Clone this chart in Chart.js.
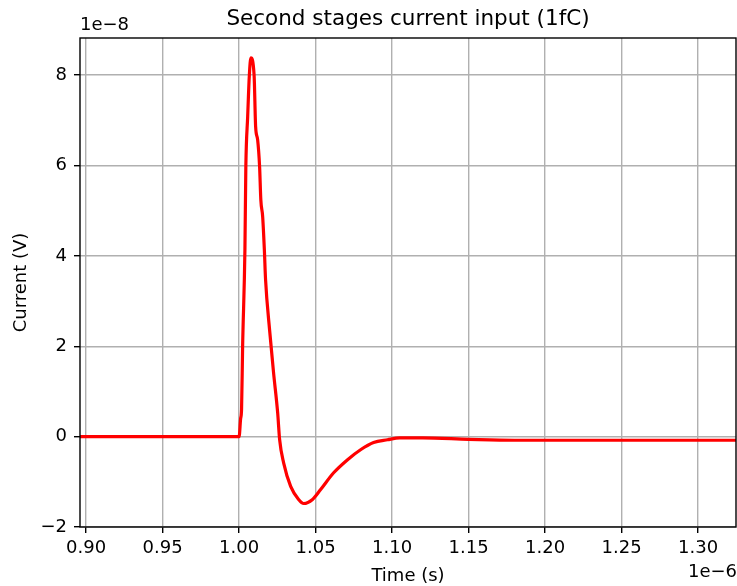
<!DOCTYPE html>
<html>
<head>
<meta charset="utf-8">
<script src="https://cdn.jsdelivr.net/npm/chart.js@4.4.1/dist/chart.umd.min.js"></script>
<style>
  body { margin: 0; background: #fff; }
  canvas { display: block; }
</style>
</head>
<body>
<canvas id="pulseChart" width="737" height="586"></canvas>
<script>
// temps en unités de 1e-6 s, courant en unités de 1e-8
const timeValues = [0.890, 1.000, 1.0010, 1.0016, 1.0023, 1.0038, 1.0044, 1.0056, 1.0067, 1.0077,
  1.0098, 1.0108, 1.0121, 1.0134, 1.0142, 1.0154, 1.0165, 1.0173, 1.0199, 1.0225,
  1.0252, 1.0265, 1.0291, 1.0337, 1.0389, 1.0422, 1.0480, 1.0533, 1.0618, 1.0709,
  1.0794, 1.0879, 1.0970, 1.1050, 1.1200, 1.1500, 1.1800, 1.2200, 1.3300];
const currentValues = [0, 0, 0.4, 0.6, 2.0, 4.14, 5.97, 7.08, 8.0, 8.38,
  8.0, 6.86, 6.57, 5.97, 5.24, 4.87, 4.14, 3.47, 2.37, 1.42,
  0.53, -0.07, -0.58, -1.1, -1.39, -1.48, -1.39, -1.17, -0.8, -0.51,
  -0.29, -0.13, -0.07, -0.03, -0.03, -0.06, -0.08, -0.08, -0.08];

const xTicks = [0.90, 0.95, 1.00, 1.05, 1.10, 1.15, 1.20, 1.25, 1.30];
const yTicks = [-2, 0, 2, 4, 6, 8];

const chartTitle = 'Second stages current input (1fC)';
const xLabel = 'Time (s)';
const yLabel = 'Current (V)';
const xOffsetText = '1e\u22126';
const yOffsetText = '1e\u22128';

const FONT = '"DejaVu Sans", sans-serif';

// dessine cadre + textes style matplotlib
const mplDecor = {
  id: 'mplDecor',
  afterDraw(chart) {
    const { ctx, chartArea: a } = chart;
    ctx.save();
    ctx.strokeStyle = '#000';
    ctx.lineWidth = 1.4;
    ctx.strokeRect(a.left, a.top, a.right - a.left, a.bottom - a.top);

    ctx.fillStyle = '#000';
    ctx.textBaseline = 'middle';
    ctx.textAlign = 'center';
    ctx.font = '21.5px ' + FONT;
    ctx.fillText(chartTitle, (a.left + a.right) / 2, 19);

    ctx.font = '18px ' + FONT;
    ctx.fillText(xLabel, (a.left + a.right) / 2, 576);

    ctx.textAlign = 'left';
    ctx.fillText(yOffsetText, a.left, 25);
    ctx.textAlign = 'right';
    ctx.fillText(xOffsetText, 737, 572);

    ctx.translate(21, (a.top + a.bottom) / 2);
    ctx.rotate(-Math.PI / 2);
    ctx.textAlign = 'center';
    ctx.fillText(yLabel, 0, 0);
    ctx.restore();
  }
};

const points = timeValues.map((t, i) => ({ x: t, y: currentValues[i] }));

const ctx = document.getElementById('pulseChart').getContext('2d');
new Chart(ctx, {
  type: 'line',
  data: {
    datasets: [{
      data: points,
      borderColor: '#ff0000',
      borderWidth: 3.2,
      pointRadius: 0,
      cubicInterpolationMode: 'monotone',
      fill: false
    }]
  },
  options: {
    responsive: false,
    animation: false,
    layout: { padding: { top: 38, right: 1, left: 0, bottom: 0 } },
    plugins: {
      legend: { display: false },
      title: { display: false },
      tooltip: { enabled: false }
    },
    scales: {
      x: {
        type: 'linear',
        min: 0.896,
        max: 1.3248,
        afterBuildTicks: axis => { axis.ticks = xTicks.map(v => ({ value: v })); },
        afterFit: axis => { axis.height = 59; },
        border: { display: false },
        grid: { color: '#b0b0b0', lineWidth: 1.4, tickColor: '#000', tickLength: 6 },
        ticks: {
          color: '#000', font: { family: FONT, size: 18 }, padding: 5,
          maxRotation: 0, autoSkip: false,
          callback: v => v.toFixed(2)
        }
      },
      y: {
        min: -2,
        max: 8.82,
        afterBuildTicks: axis => { axis.ticks = yTicks.map(v => ({ value: v })); },
        afterFit: axis => { axis.width = 80; },
        border: { display: false },
        grid: { color: '#b0b0b0', lineWidth: 1.4, tickColor: '#000', tickLength: 6 },
        ticks: {
          color: '#000', font: { family: FONT, size: 18 }, padding: 7,
          callback: v => (v < 0 ? '\u2212' + Math.abs(v) : String(v))
        }
      }
    }
  },
  plugins: [mplDecor]
});
</script>
</body>
</html>
